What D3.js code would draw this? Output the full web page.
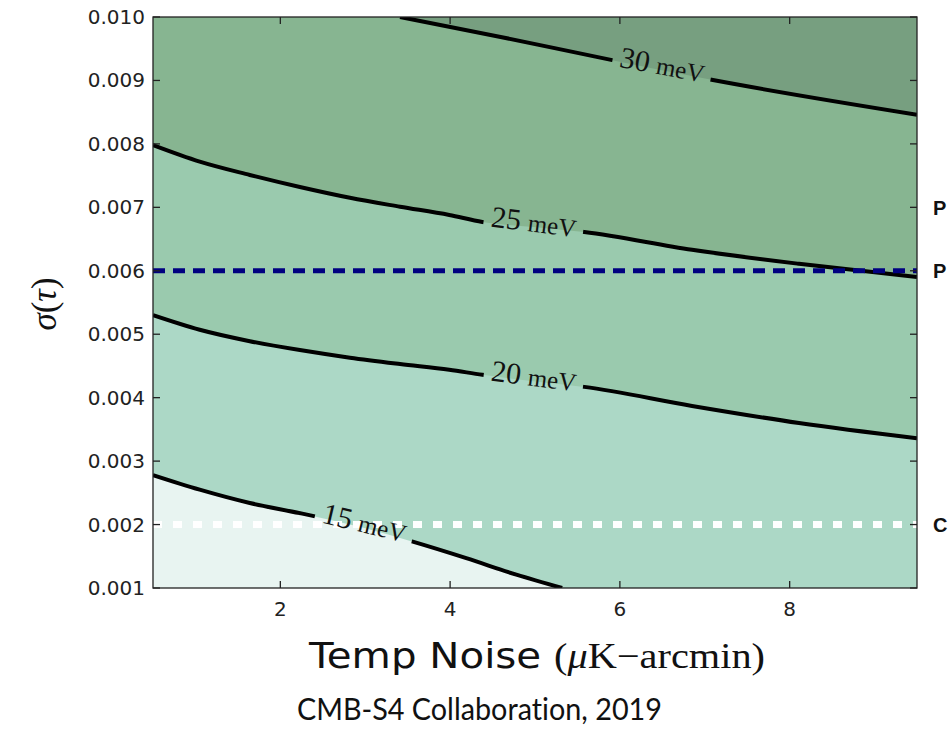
<!DOCTYPE html>
<html>
<head>
<meta charset="utf-8">
<script src="https://cdn.jsdelivr.net/npm/d3@7"></script>
<style>
  body { margin: 0; background: #fff; }
  svg { display: block; }
</style>
</head>
<body>
<div id="chart"></div>
<script>
(function() {
	"use strict";

	// contour levels (meV) and the traced lines, as [temp noise, sigma(tau)]
	var levels = [15, 20, 25, 30];
	var line15 = [[0.5, 0.00278], [1.05, 0.00255], [1.64, 0.00234], [2.23, 0.00218], [2.98, 0.00195], [3.56, 0.00173], [4.19, 0.00147], [4.78, 0.00121], [5.32, 0.00100]];
	var line20 = [[0.5, 0.00530], [1.05, 0.00507], [1.64, 0.00489], [2.23, 0.00475], [2.82, 0.00463], [3.41, 0.00453], [3.99, 0.00444], [4.38, 0.00436], [4.98, 0.00426], [5.58, 0.00417], [6.85, 0.00387], [8.11, 0.00360], [9.5, 0.00336]];
	var line25 = [[0.5, 0.00798], [1.05, 0.00772], [1.64, 0.00751], [2.23, 0.00732], [2.82, 0.00715], [3.41, 0.00701], [3.99, 0.00688], [4.38, 0.00677], [4.98, 0.00669], [5.58, 0.00661], [6.85, 0.00633], [8.11, 0.00611], [9.5, 0.00590]];
	var line30 = [[3.41, 0.01000], [4.58, 0.00969], [5.91, 0.00932], [7.08, 0.00901], [9.5, 0.00846]];
	var contourLines = [line15, line20, line25, line30];
	var labelX = [2.98, 4.98, 4.98, 6.49];

	// fill colours: below 15, 15-20, 20-25, 25-30, above 30
	var bandColors = ["#e8f4f1", "#acd8c6", "#9acaae", "#87b591", "#779f80"];

	// reference lines
	var refValues = [0.006, 0.002];
	var refColors = ["#000080", "#ffffff"];
	var sideLabels = [["P", 0.007], ["P", 0.006], ["C", 0.002]];

	var xTicks = [2, 4, 6, 8];
	var yTicks = [0.001, 0.002, 0.003, 0.004, 0.005, 0.006, 0.007, 0.008, 0.009, 0.010];

	var w = 948, h = 734;
	var margin = {left: 153, right: 31, top: 17, bottom: 146};
	var iw = w - margin.left - margin.right;
	var ih = h - margin.top - margin.bottom;

	var x = d3.scaleLinear().domain([0.5, 9.5]).range([0, iw]);
	var y = d3.scaleLinear().domain([0.001, 0.010]).range([ih, 0]);

	var svg = d3.select("#chart").append("svg")
		.attr("width", w)
		.attr("height", h);

	var defs = svg.append("defs");
	defs.append("clipPath").attr("id", "plotClip")
		.append("rect").attr("width", iw).attr("height", ih);

	var g = svg.append("g")
		.attr("transform", "translate(" + margin.left + "," + margin.top + ")");

	var plot = g.append("g").attr("clip-path", "url(#plotClip)");

	var lineGen = d3.line()
		.x(function(d) { return x(d[0]); })
		.y(function(d) { return y(d[1]); })
		.curve(d3.curveMonotoneX);

	// background band
	plot.append("rect")
		.attr("width", iw).attr("height", ih)
		.attr("fill", bandColors[0]);

	// each band is filled from its contour up to the top edge
	contourLines.forEach(function(pts, i) {
		var last = pts[pts.length - 1];
		var extra = [];
		if (last[0] < 9.5) { extra.push([9.5, 0.001]); }
		extra.push([9.5, 0.010], [0.5, 0.010]);
		var d = lineGen(pts) + extra.map(function(p) {
			return "L" + x(p[0]) + "," + y(p[1]);
		}).join("") + "Z";
		plot.append("path")
			.attr("d", d)
			.attr("fill", bandColors[i + 1]);
	});

	// label positions along each line
	function pointAt(pts, xv) {
		for (var k = 0; k < pts.length - 1; k++) {
			if (xv >= pts[k][0] && xv <= pts[k + 1][0]) {
				var t = (xv - pts[k][0]) / (pts[k + 1][0] - pts[k][0]);
				var a = Math.max(k - 1, 0), b = Math.min(k + 2, pts.length - 1);
				var ang = Math.atan2(y(pts[b][1]) - y(pts[a][1]), x(pts[b][0]) - x(pts[a][0])) * 180 / Math.PI;
				return {x: x(xv), y: y(pts[k][1] + t * (pts[k + 1][1] - pts[k][1])), a: ang};
			}
		}
		return {x: x(xv), y: 0, a: 0};
	}
	var labelPos = contourLines.map(function(pts, i) { return pointAt(pts, labelX[i]); });

	// mask that cuts gaps into the lines where the labels sit
	var mask = defs.append("mask").attr("id", "lineMask")
		.attr("maskUnits", "userSpaceOnUse")
		.attr("x", 0).attr("y", 0).attr("width", iw).attr("height", ih);
	mask.append("rect").attr("width", iw).attr("height", ih).attr("fill", "#fff");
	labelPos.forEach(function(p) {
		mask.append("rect")
			.attr("x", -50).attr("y", -14).attr("width", 100).attr("height", 28)
			.attr("fill", "#000")
			.attr("transform", "translate(" + p.x + "," + p.y + ") rotate(" + p.a + ")");
	});

	var linesG = plot.append("g").attr("mask", "url(#lineMask)");
	contourLines.forEach(function(pts) {
		linesG.append("path")
			.attr("d", lineGen(pts))
			.attr("fill", "none")
			.attr("stroke", "#000")
			.attr("stroke-width", 4);
	});

	// dashed reference lines
	refValues.forEach(function(v, i) {
		plot.append("line")
			.attr("x1", 0).attr("x2", iw)
			.attr("y1", y(v)).attr("y2", y(v))
			.attr("stroke", refColors[i])
			.attr("stroke-width", i === 0 ? 5 : 7)
			.attr("stroke-dasharray", i === 0 ? "12,8" : "9,11");
	});

	// contour labels
	labelPos.forEach(function(p, i) {
		var t = g.append("text")
			.attr("transform", "translate(" + p.x + "," + p.y + ") rotate(" + p.a + ")")
			.attr("text-anchor", "middle")
			.attr("dy", "0.3em")
			.attr("font-family", "'Liberation Serif', 'DejaVu Serif', serif")
			.attr("fill", "#111");
		t.append("tspan").attr("font-size", 30).text(levels[i]);
		t.append("tspan").attr("font-size", 25).attr("dx", 7).text("meV");
	});

	// frame
	g.append("rect")
		.attr("width", iw).attr("height", ih)
		.attr("fill", "none")
		.attr("stroke", "#222")
		.attr("stroke-width", 1.3);

	// ticks on all four sides, pointing inward
	var tickLen = 7;
	xTicks.forEach(function(t) {
		g.append("line").attr("x1", x(t)).attr("x2", x(t)).attr("y1", ih).attr("y2", ih - tickLen)
			.attr("stroke", "#222").attr("stroke-width", 1.3);
		g.append("line").attr("x1", x(t)).attr("x2", x(t)).attr("y1", 0).attr("y2", tickLen)
			.attr("stroke", "#222").attr("stroke-width", 1.3);
	});
	yTicks.forEach(function(t) {
		g.append("line").attr("x1", 0).attr("x2", tickLen).attr("y1", y(t)).attr("y2", y(t))
			.attr("stroke", "#222").attr("stroke-width", 1.3);
		g.append("line").attr("x1", iw).attr("x2", iw - tickLen).attr("y1", y(t)).attr("y2", y(t))
			.attr("stroke", "#222").attr("stroke-width", 1.3);
	});

	// tick labels
	g.selectAll(".xl")
		.data(xTicks)
		.enter()
		.append("text")
		.text(function(d) { return d; })
		.attr("x", function(d) { return x(d); })
		.attr("y", ih + 28)
		.attr("text-anchor", "middle")
		.attr("font-family", "'DejaVu Sans', sans-serif")
		.attr("font-size", 20)
		.attr("fill", "#222");

	g.selectAll(".yl")
		.data(yTicks)
		.enter()
		.append("text")
		.text(function(d) { return d3.format(".3f")(d); })
		.attr("x", -8)
		.attr("y", function(d) { return y(d); })
		.attr("dy", "0.35em")
		.attr("text-anchor", "end")
		.attr("font-family", "'DejaVu Sans', sans-serif")
		.attr("font-size", 20)
		.attr("fill", "#222");

	// right-hand labels (cut off at the window edge)
	sideLabels.forEach(function(s) {
		g.append("text")
			.attr("x", iw + 16)
			.attr("y", y(s[1]))
			.attr("dy", "0.36em")
			.attr("font-family", "'Liberation Sans', Arial, sans-serif")
			.attr("font-weight", "bold")
			.attr("font-size", 20)
			.attr("fill", "#111")
			.text(s[0]);
	});

	// axis titles
	var xt = svg.append("text")
		.attr("x", 309)
		.attr("y", 668)
		.attr("textLength", 456)
		.attr("lengthAdjust", "spacingAndGlyphs")
		.attr("fill", "#111");
	xt.append("tspan").attr("font-family", "'DejaVu Sans', sans-serif").attr("font-size", 36).text("Temp Noise ");
	xt.append("tspan").attr("font-family", "'Liberation Serif', serif").attr("font-size", 36).text("(");
	xt.append("tspan").attr("font-family", "'Liberation Serif', serif").attr("font-size", 36).attr("font-style", "italic").text("μ");
	xt.append("tspan").attr("font-family", "'Liberation Serif', serif").attr("font-size", 36).text("K−arcmin)");

	var yt = svg.append("text")
		.attr("transform", "translate(56,304) rotate(-90)")
		.attr("text-anchor", "middle")
		.attr("font-family", "'Liberation Serif', serif")
		.attr("font-size", 35)
		.attr("fill", "#111");
	yt.append("tspan").attr("font-style", "italic").text("σ");
	yt.append("tspan").text("(");
	yt.append("tspan").attr("font-style", "italic").text("τ");
	yt.append("tspan").text(")");

	// caption
	svg.append("text")
		.attr("x", 297)
		.attr("y", 720)
		.attr("textLength", 365)
		.attr("lengthAdjust", "spacingAndGlyphs")
		.attr("font-family", "Lato, 'Open Sans', sans-serif")
		.attr("font-size", 30)
		.style("font-variant-ligatures", "none")
		.attr("fill", "#111")
		.text("CMB-S4 Collaboration, 2019");
}());
</script>
</body>
</html>
